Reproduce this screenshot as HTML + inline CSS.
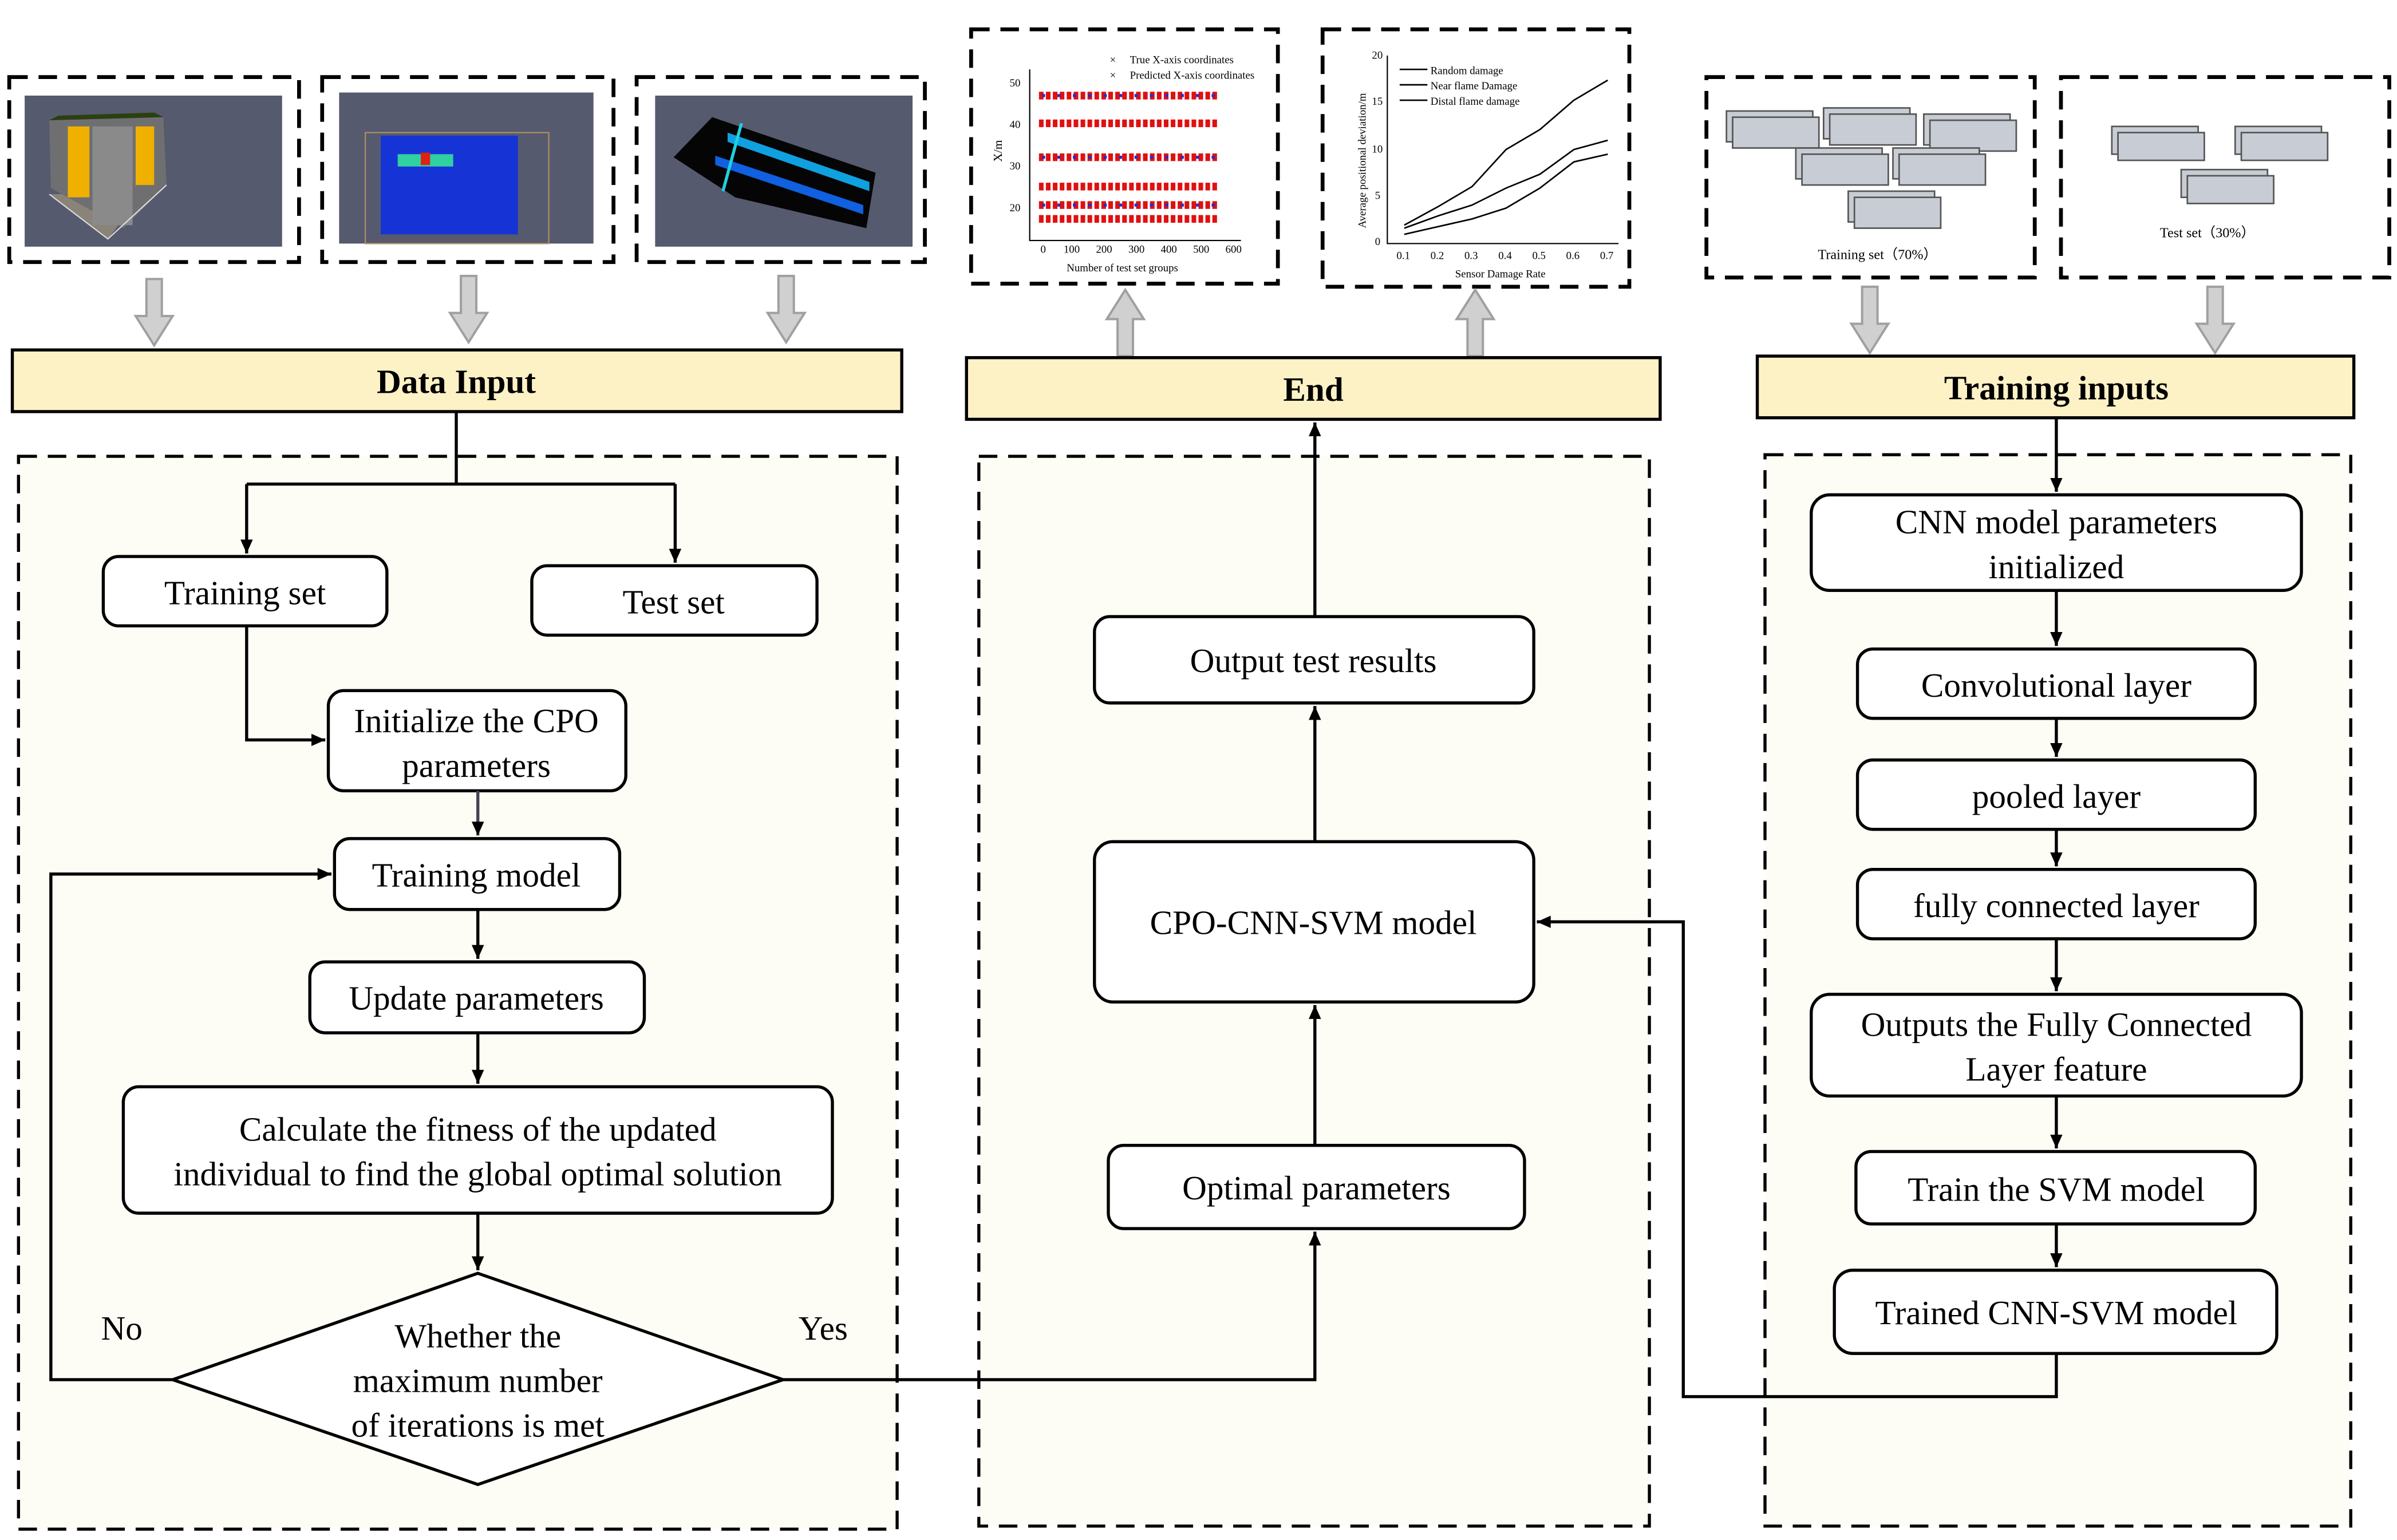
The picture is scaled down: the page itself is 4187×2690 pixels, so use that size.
<!DOCTYPE html>
<html><head><meta charset="utf-8">
<style>
html,body{margin:0;padding:0;background:#fff;}
svg{display:block;}
text{font-family:"Liberation Serif","Times New Roman",serif;fill:#000;}
</style></head>
<body>
<svg width="4187" height="2690" viewBox="0 0 1555 999" xmlns="http://www.w3.org/2000/svg">
<defs>
<marker id="ah" markerWidth="10" markerHeight="10" refX="9" refY="5" orient="auto" markerUnits="userSpaceOnUse">
<path d="M0,1 L9,5 L0,9 Z" fill="#000"/></marker>
</defs>
<rect width="1555" height="999" fill="#fff"/>

<!-- top image boxes -->
<g fill="none" stroke="#000" stroke-width="2.5" stroke-dasharray="12,7">
<rect x="6" y="50" width="188" height="120"/>
<rect x="209" y="50" width="189" height="120"/>
<rect x="413" y="50" width="187" height="120"/>
<rect x="630" y="19" width="199" height="165"/>
<rect x="858" y="19" width="199" height="167"/>
<rect x="1107" y="50" width="213" height="130"/>
<rect x="1337" y="50" width="213" height="130"/>
</g>
<!-- image 1 -->
<rect x="16" y="62" width="167" height="98" fill="#555a6e"/>
<polygon points="32,126 98,125 103,112 70,155" fill="#8a8478"/>
<polygon points="32,78 106,76 108,120 80,148 33,122" fill="#6f6f72"/>
<polygon points="32,78 106,76 100,73 38,75" fill="#2a4010"/>
<rect x="44" y="82" width="14" height="46" fill="#f0b000"/>
<rect x="88" y="82" width="12" height="38" fill="#f0b000"/>
<rect x="60" y="82" width="26" height="64" fill="#8a8a8a"/>
<polyline points="32,126 70,155 108,120" fill="none" stroke="#ddd" stroke-width="0.8"/>
<!-- image 2 -->
<rect x="220" y="60" width="165" height="98" fill="#555a6e"/>
<rect x="237" y="86" width="119" height="72" fill="none" stroke="#b09060" stroke-width="0.8"/>
<rect x="247" y="88" width="89" height="64" fill="#1030e0" opacity="0.9"/>
<rect x="258" y="100" width="36" height="8" fill="#30d0a0"/>
<rect x="273" y="99" width="6" height="8" fill="#e02010"/>
<!-- image 3 -->
<rect x="425" y="62" width="167" height="98" fill="#555a6e"/>
<polygon points="437,102 462,76 568,112 562,148 477,128" fill="#050505"/>
<polygon points="472,86 564,118 564,124 472,92" fill="#10a0e0"/>
<polygon points="464,101 560,133 560,139 464,107" fill="#1060e0"/>
<line x1="481" y1="80" x2="469" y2="124" stroke="#20d0e0" stroke-width="2"/>

<!-- chart 1 -->
<g stroke="#000" stroke-width="0.8" fill="none">
<polyline points="668,45 668,156 805,156"/>
</g>
<g font-size="7">
<text x="655" y="56">50</text><text x="655" y="83">40</text><text x="655" y="110">30</text><text x="655" y="137">20</text>
<text x="675" y="164">0</text><text x="690" y="164">100</text><text x="711" y="164">200</text><text x="732" y="164">300</text><text x="753" y="164">400</text><text x="774" y="164">500</text><text x="795" y="164">600</text>
<text x="692" y="176">Number of test set groups</text>
<text x="733" y="41" fill="#000">True X-axis coordinates</text>
<text x="733" y="51">Predicted X-axis coordinates</text>
<text x="720" y="41" fill="#2030d0">×</text><text x="720" y="51" fill="#e01010">×</text>
<text x="650" y="105" transform="rotate(-90 650 105)" font-size="8">X/m</text>
</g>
<g stroke="#e01010" stroke-width="5" stroke-dasharray="3,1.5">
<line x1="674" y1="62" x2="790" y2="62"/>
<line x1="674" y1="80" x2="790" y2="80"/>
<line x1="674" y1="102" x2="790" y2="102"/>
<line x1="674" y1="121" x2="790" y2="121"/>
<line x1="674" y1="133" x2="790" y2="133"/>
<line x1="674" y1="142" x2="790" y2="142"/>
</g>
<g stroke="#2030d0" stroke-width="2" stroke-dasharray="2,8">
<line x1="676" y1="62" x2="790" y2="62"/><line x1="676" y1="102" x2="790" y2="102"/><line x1="676" y1="133" x2="790" y2="133"/>
</g>

<!-- chart 2 -->
<polyline points="900,36 900,158 1050,158" fill="none" stroke="#000" stroke-width="0.8"/>
<g font-size="7">
<text x="890" y="38">20</text><text x="890" y="68">15</text><text x="890" y="99">10</text><text x="892" y="129">5</text><text x="892" y="159">0</text>
<text x="906" y="168">0.1</text><text x="928" y="168">0.2</text><text x="950" y="168">0.3</text><text x="972" y="168">0.4</text><text x="994" y="168">0.5</text><text x="1016" y="168">0.6</text><text x="1038" y="168">0.7</text>
<text x="944" y="180">Sensor Damage Rate</text>
<text x="928" y="48">Random damage</text><text x="928" y="58">Near flame Damage</text><text x="928" y="68">Distal flame damage</text>
<text x="886" y="148" transform="rotate(-90 886 148)">Average positional deviation/m</text>
</g>
<g fill="none" stroke="#000" stroke-width="1">
<line x1="908" y1="45" x2="926" y2="45"/><line x1="908" y1="55" x2="926" y2="55"/><line x1="908" y1="65" x2="926" y2="65"/>
<polyline points="911,152 933,147 955,142 977,135 999,122 1021,105 1043,100"/>
<polyline points="911,146 933,134 955,121 977,97 999,84 1021,65 1043,52"/>
<polyline points="911,148 933,140 955,133 977,122 999,113 1021,97 1043,91"/>
</g>

<!-- training / test set thumbnails -->
<g fill="#c8ccd4" stroke="#555" stroke-width="1">
<rect x="1120" y="72" width="56" height="20"/><rect x="1124" y="76" width="56" height="20"/>
<rect x="1183" y="70" width="56" height="20"/><rect x="1187" y="74" width="56" height="20"/>
<rect x="1248" y="74" width="56" height="20"/><rect x="1252" y="78" width="56" height="20"/>
<rect x="1165" y="96" width="56" height="20"/><rect x="1169" y="100" width="56" height="20"/>
<rect x="1228" y="96" width="56" height="20"/><rect x="1232" y="100" width="56" height="20"/>
<rect x="1199" y="124" width="56" height="20"/><rect x="1203" y="128" width="56" height="20"/>
<rect x="1370" y="82" width="56" height="18"/><rect x="1374" y="86" width="56" height="18"/>
<rect x="1450" y="82" width="56" height="18"/><rect x="1454" y="86" width="56" height="18"/>
<rect x="1415" y="110" width="56" height="18"/><rect x="1419" y="114" width="56" height="18"/>
</g>
<text x="1218" y="168" font-size="9" text-anchor="middle">Training set（70%）</text>
<text x="1432" y="154" font-size="9" text-anchor="middle">Test set（30%）</text>

<!-- gray block arrows -->
<g fill="#d0d0d0" stroke="#a0a0a0" stroke-width="1.5">
<polygon points="95,181 105,181 105,205 112,205 100,224 88,205 95,205"/>
<polygon points="299,179 309,179 309,203 316,203 304,222 292,203 299,203"/>
<polygon points="505,179 515,179 515,203 522,203 510,222 498,203 505,203"/>
<polygon points="1208,186 1218,186 1218,210 1225,210 1213,229 1201,210 1208,210"/>
<polygon points="1432,186 1442,186 1442,210 1449,210 1437,229 1425,210 1432,210"/>
<polygon points="725,231 735,231 735,207 742,207 730,188 718,207 725,207"/>
<polygon points="952,231 962,231 962,207 969,207 957,188 945,207 952,207"/>
</g>

<!-- header bars -->
<g fill="#fdf1c6" stroke="#000" stroke-width="2">
<rect x="8" y="227" width="577" height="40"/>
<rect x="627" y="232" width="450" height="40"/>
<rect x="1140" y="231" width="387" height="40"/>
</g>
<g font-size="22" font-weight="bold" text-anchor="middle">
<text x="296" y="255">Data Input</text>
<text x="852" y="260">End</text>
<text x="1334" y="259">Training inputs</text>
</g>

<!-- panels -->
<g fill="#fefdf5" stroke="#000" stroke-width="2" stroke-dasharray="12,7">
<rect x="12" y="296" width="570" height="696"/>
<rect x="635" y="296" width="435" height="694"/>
<rect x="1145" y="295" width="380" height="695"/>
</g>

<!-- boxes -->
<g fill="#fff" stroke="#000" stroke-width="2">
<rect x="67" y="361" width="184" height="45" rx="10"/>
<rect x="345" y="367" width="185" height="45" rx="10"/>
<rect x="213" y="448" width="193" height="65" rx="10"/>
<rect x="217" y="544" width="185" height="46" rx="10"/>
<rect x="201" y="624" width="217" height="46" rx="10"/>
<rect x="80" y="705" width="460" height="82" rx="10"/>
<polygon points="310,826 508,895 310,963 112,895"/>
<rect x="710" y="400" width="285" height="56" rx="10"/>
<rect x="710" y="546" width="285" height="104" rx="12"/>
<rect x="719" y="743" width="270" height="54" rx="10"/>
<rect x="1175" y="321" width="318" height="62" rx="12"/>
<rect x="1205" y="421" width="258" height="45" rx="10"/>
<rect x="1205" y="493" width="258" height="45" rx="10"/>
<rect x="1205" y="564" width="258" height="45" rx="10"/>
<rect x="1175" y="645" width="318" height="66" rx="12"/>
<rect x="1204" y="747" width="259" height="47" rx="10"/>
<rect x="1190" y="824" width="287" height="54" rx="12"/>
</g>

<g font-size="22" text-anchor="middle">
<text x="159" y="392">Training set</text>
<text x="437" y="398">Test set</text>
<text x="309" y="475">Initialize  the CPO</text>
<text x="309" y="504">parameters</text>
<text x="309" y="575">Training model</text>
<text x="309" y="655">Update parameters</text>
<text x="310" y="740">Calculate the fitness  of the updated</text>
<text x="310" y="769">individual  to find the global optimal solution</text>
<text x="310" y="874">Whether the</text>
<text x="310" y="903">maximum number</text>
<text x="310" y="932">of iterations  is met</text>
<text x="79" y="869">No</text>
<text x="534" y="869">Yes</text>
<text x="852" y="436">Output test results</text>
<text x="852" y="606">CPO-CNN-SVM  model</text>
<text x="854" y="778">Optimal parameters</text>
<text x="1334" y="346">CNN model parameters</text>
<text x="1334" y="375">initialized</text>
<text x="1334" y="452">Convolutional  layer</text>
<text x="1334" y="524">pooled layer</text>
<text x="1334" y="595">fully connected layer</text>
<text x="1334" y="672">Outputs the Fully Connected</text>
<text x="1334" y="701">Layer feature</text>
<text x="1334" y="779">Train the SVM model</text>
<text x="1334" y="859">Trained CNN-SVM model</text>
</g>

<!-- connectors -->
<g fill="none" stroke="#000" stroke-width="2">
<line x1="296" y1="267" x2="296" y2="314"/>
<line x1="160" y1="314" x2="438" y2="314"/>
<line x1="160" y1="314" x2="160" y2="359" marker-end="url(#ah)"/>
<line x1="438" y1="314" x2="438" y2="365" marker-end="url(#ah)"/>
<polyline points="160,406 160,480 211,480" marker-end="url(#ah)"/>
<line x1="310" y1="513" x2="310" y2="542" stroke="#445" marker-end="url(#ah)"/>
<line x1="310" y1="590" x2="310" y2="622" marker-end="url(#ah)"/>
<line x1="310" y1="670" x2="310" y2="703" marker-end="url(#ah)"/>
<line x1="310" y1="787" x2="310" y2="824" marker-end="url(#ah)"/>
<polyline points="112,895 33,895 33,567 215,567" marker-end="url(#ah)"/>
<polyline points="508,895 853,895 853,799" marker-end="url(#ah)"/>
<line x1="853" y1="743" x2="853" y2="652" marker-end="url(#ah)"/>
<line x1="853" y1="546" x2="853" y2="458" marker-end="url(#ah)"/>
<line x1="853" y1="400" x2="853" y2="274" marker-end="url(#ah)"/>
<line x1="1334" y1="271" x2="1334" y2="319" marker-end="url(#ah)"/>
<line x1="1334" y1="383" x2="1334" y2="419" marker-end="url(#ah)"/>
<line x1="1334" y1="466" x2="1334" y2="491" marker-end="url(#ah)"/>
<line x1="1334" y1="538" x2="1334" y2="562" marker-end="url(#ah)"/>
<line x1="1334" y1="609" x2="1334" y2="643" marker-end="url(#ah)"/>
<line x1="1334" y1="711" x2="1334" y2="745" marker-end="url(#ah)"/>
<line x1="1334" y1="794" x2="1334" y2="822" marker-end="url(#ah)"/>
<polyline points="1334,878 1334,906 1092,906 1092,598 997,598" marker-end="url(#ah)"/>
</g>
</svg>
</body></html>
